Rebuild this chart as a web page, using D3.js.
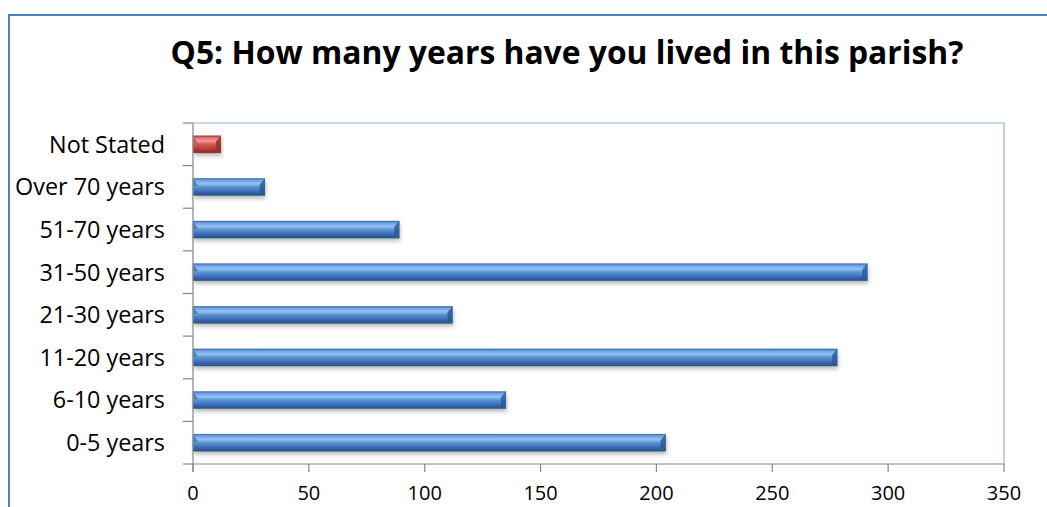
<!DOCTYPE html>
<html><head><meta charset="utf-8">
<script src="https://cdn.jsdelivr.net/npm/d3@7"></script>
<style>
html,body{margin:0;padding:0;background:#fff;}
svg{display:block;}
text{font-family:"Open Sans",Lato,sans-serif;fill:#000;}
</style></head>
<body>
<svg id="chart" width="1047" height="507"></svg>
<script>
const categories = ["Not Stated","Over 70 years","51-70 years","31-50 years","21-30 years","11-20 years","6-10 years","0-5 years"];
const values = [12, 31, 89, 291, 112, 278, 135, 204];
const xTicks = [0, 50, 100, 150, 200, 250, 300, 350];
const title = "Q5: How many years have you lived in this parish?";

const W = 1047, H = 507;
const plot = {left:193, right:1004, top:123, bottom:464};
const svg = d3.select("#chart");

// outer chart border
svg.append("path").attr("d", `M9,${H} V15 H${W}`)
  .attr("fill","none").attr("stroke","#4f81bd").attr("stroke-width",2);

const x = d3.scaleLinear().domain([0,350]).range([plot.left, plot.right]);
const y = d3.scaleBand().domain(categories).range([plot.top, plot.bottom]).paddingInner(0.6).paddingOuter(0.3);
const yb = d3.scaleBand().domain(categories).range([plot.top, plot.bottom]);

const defs = svg.append("defs");
function grad(id, stops){
  const g = defs.append("linearGradient").attr("id",id).attr("x1",0).attr("y1",0).attr("x2",0).attr("y2",1);
  stops.forEach(s=>g.append("stop").attr("offset",s[0]).attr("stop-color",s[1]));
}
grad("gBlue",[[0,"#3a6eb0"],[0.12,"#6fa3e2"],[0.32,"#93c1f2"],[0.48,"#5f96d8"],[0.75,"#3b6fb4"],[1,"#23508d"]]);
grad("gRed",[[0,"#a83b38"],[0.12,"#e07370"],[0.32,"#f29a97"],[0.48,"#d55a57"],[0.75,"#b8403d"],[1,"#8a2522"]]);
const f = defs.append("filter").attr("id","shadow").attr("x","-5%").attr("y","-50%").attr("width","110%").attr("height","200%");
f.append("feGaussianBlur").attr("stdDeviation",2.2);

// plot area border (top & right)
svg.append("path").attr("d",`M${plot.left},${plot.top} H${plot.right} V${plot.bottom}`)
  .attr("fill","none").attr("stroke","#8eb4e3").attr("stroke-width",1.2);

// bars
const bars = svg.append("g");
categories.forEach((c,i)=>{
  const bx = x(0), bw = x(values[i]) - x(0), by = y(c), bh = y.bandwidth();
  bars.append("rect").attr("x",bx+1).attr("y",by+3).attr("width",bw).attr("height",bh)
    .attr("fill","#000").attr("opacity",0.28).attr("filter","url(#shadow)");
  bars.append("rect").attr("x",bx).attr("y",by).attr("width",bw).attr("height",bh)
    .attr("fill", i===0 ? "url(#gRed)" : "url(#gBlue)");
  const bev = Math.min(5, bw/2);
  bars.append("path").attr("d",`M${bx},${by} L${bx+bev},${by+bh*0.45} L${bx},${by+bh*0.45}Z`)
    .attr("fill", i===0 ? "#c7504d" : "#3c72b8").attr("opacity",0.8);
  bars.append("path").attr("d",`M${bx+bw},${by} L${bx+bw-bev},${by+bh*0.35} L${bx+bw-bev},${by+bh*0.85} L${bx+bw},${by+bh}Z`)
    .attr("fill", i===0 ? "#9a2e2b" : "#2c5a98").attr("opacity",0.85);
  bars.append("rect").attr("x",bx).attr("y",by).attr("width",bw).attr("height",bh)
    .attr("fill","none").attr("stroke", i===0 ? "#8a2a28" : "#2a5690").attr("stroke-width",0.6).attr("opacity",0.6);
});

// y axis
const yAxisG = svg.append("g");
yAxisG.append("line").attr("x1",plot.left).attr("x2",plot.left).attr("y1",plot.top).attr("y2",plot.bottom+8)
  .attr("stroke","#868686").attr("stroke-width",1.2);
const bounds = categories.map(c=>yb(c)).concat([plot.bottom]);
bounds.forEach(b=>{
  yAxisG.append("line").attr("x1",plot.left-10).attr("x2",plot.left).attr("y1",b).attr("y2",b)
    .attr("stroke","#868686").attr("stroke-width",1.2);
});
const labs = yAxisG.selectAll("text.ylab").data(categories).join("text").attr("class","ylab")
  .attr("x",165).attr("y",c=>yb(c)+yb.bandwidth()/2)
  .attr("dy","0.36em").attr("text-anchor","end").attr("font-size",20).text(c=>c);
const lw = labs.filter((d,i)=>i===1).node().getComputedTextLength();
labs.attr("font-size", 20*150/lw);

// x axis
const xAxisG = svg.append("g");
xAxisG.append("line").attr("x1",plot.left).attr("x2",plot.right).attr("y1",plot.bottom).attr("y2",plot.bottom)
  .attr("stroke","#868686").attr("stroke-width",1.2);
xTicks.forEach(t=>{
  xAxisG.append("line").attr("x1",x(t)).attr("x2",x(t)).attr("y1",plot.bottom).attr("y2",plot.bottom+8)
    .attr("stroke","#868686").attr("stroke-width",1.2);
  xAxisG.append("text").attr("x",x(t)).attr("y",500).attr("text-anchor","middle").attr("font-size",20).text(t);
});

// title
const tt = svg.append("text").attr("x",567).attr("y",64).attr("text-anchor","middle")
  .attr("font-size",27).attr("font-weight","bold").text(title);
const tw = tt.node().getComputedTextLength();
tt.attr("font-size", 27*793/tw);
</script>
</body></html>
